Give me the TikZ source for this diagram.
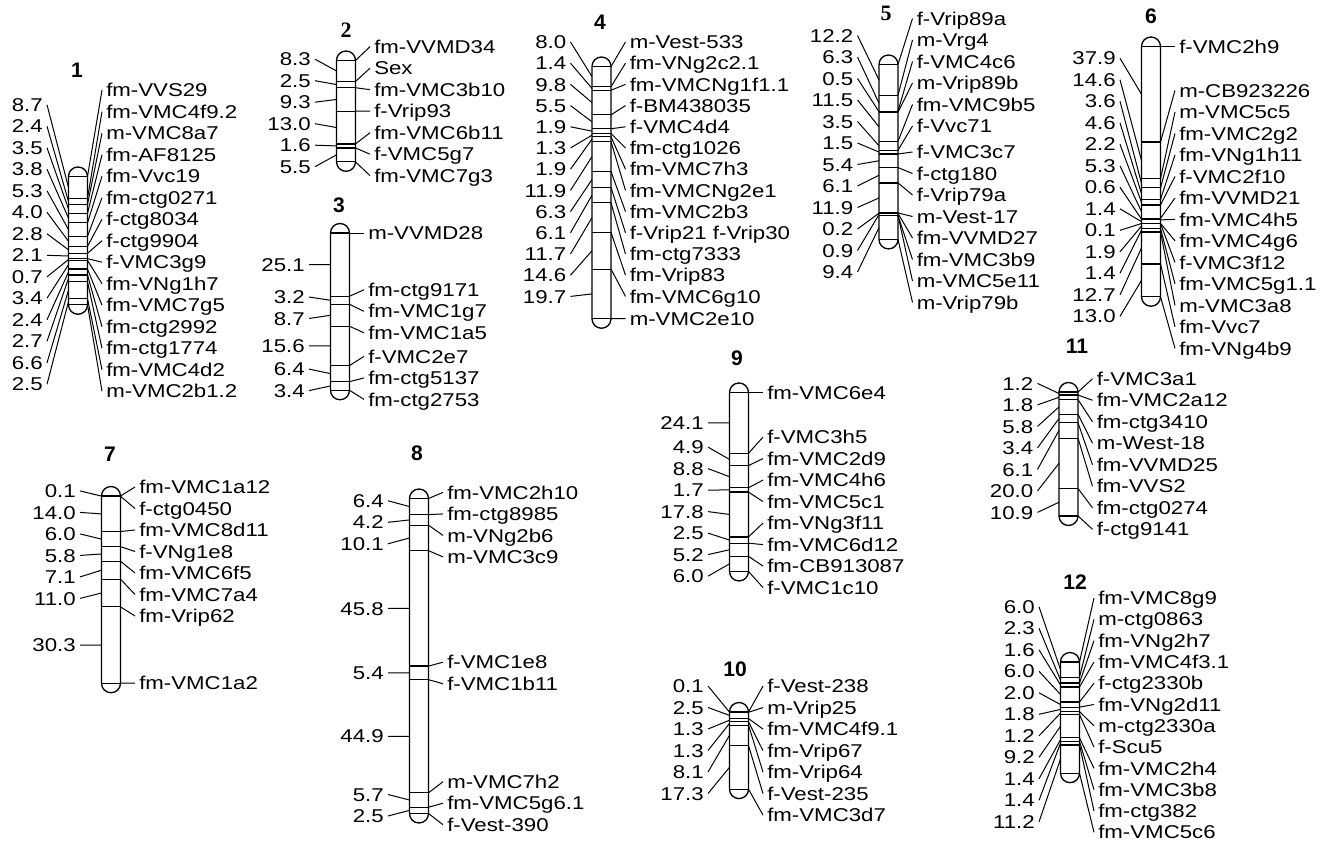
\documentclass[tikz,border=0pt]{standalone}
\usepackage{fontspec}
\setmainfont{Liberation Sans}
\newfontfamily\labfont{Liberation Sans}[FakeStretch=1.2]
\newfontfamily\serfont{Liberation Serif}

% px per cM and half width of a bar
\newcommand{\cmpx}{2.52}
\newcommand{\barhw}{9.5}

% one linkage group: name, x of bar, y of top marker,
% {interval/y of its label}, {marker/y of label/marker name}
\newcommand{\chromo}[5]{%
  \xdef\cmsum{0}
  \coordinate (#1m0) at (#2+\barhw,#3);
  \draw[tick] (#2-\barhw,#3) -- (#1m0);
  \foreach \len/\ly [count=\k] in {#4}{
    \pgfmathsetmacro\midy{#3+(\cmsum+\len/2)*\cmpx}
    \pgfmathsetmacro\newsum{\cmsum+\len}
    \xdef\cmsum{\newsum}
    \coordinate (#1h\k) at (#2-\barhw,\midy);
    \coordinate (#1m\k) at (#2+\barhw,#3+\cmsum*\cmpx);
    \draw[tick] (#2-\barhw,#3+\cmsum*\cmpx) -- (#1m\k);
    \node[dist] (#1L\k) at (#2-31,\ly) {\len};
    \draw[conn] (#1h\k) -- (#1L\k.east);
  }
  \draw[bar] (#2-\barhw,#3-\barhw) rectangle (#2+\barhw,#3+\cmsum*\cmpx+\barhw);
  \foreach \i/\ry/\nm [count=\j] in {#5}{
    \node[mname] (#1R\j) at (#2+24,\ry) {\nm};
    \draw[conn] (#1m\i) -- (#1R\j.west);
  }
}

\begin{document}
\begin{tikzpicture}[x=0.75pt, y=-0.75pt,
  lab/.style={font=\labfont\fontsize{13.9}{14}\selectfont, inner xsep=3pt, inner ysep=0pt, text height=10pt, text depth=0pt},
  dist/.style={lab, anchor=east},
  mname/.style={lab, anchor=west},
  ttl/.style={font=\bfseries\fontsize{15.8}{16}\selectfont, inner sep=0pt},
  ttlser/.style={font=\serfont\bfseries\fontsize{16.5}{17}\selectfont, inner sep=0pt},
  bar/.style={line width=1pt, rounded corners=7.1pt},
  tick/.style={line width=0.9pt},
  conn/.style={line width=0.75pt}]
  \fill[white] (0,0) rectangle (1328,842);
  \useasboundingbox (0,0) rectangle (1328,842);

  % Group titles
  \node[ttl] (t1) at (77,70) {1};
  \node[ttlser] (t2) at (346,30) {2};
  \node[ttl] (t3) at (339,205) {3};
  \node[ttl] (t4) at (600,22) {4};
  \node[ttlser] (t5) at (886,13) {5};
  \node[ttl] (t6) at (1151,16) {6};
  \node[ttl] (t7) at (110,454) {7};
  \node[ttl] (t8) at (417,453) {8};
  \node[ttl] (t9) at (737,358) {9};
  \node[ttl] (t10) at (735,669) {10};
  \node[ttl] (t11) at (1077,346) {11};
  \node[ttl] (t12) at (1075,582) {12};

  % Groups 1-6
  \chromo{c1}{78}{176.5}{8.7/104.8, 2.4/126.3, 3.5/147.8, 3.8/169.3, 5.3/190.8, 4.0/212.3, 2.8/233.8,
    2.1/255.3, 0.7/276.8, 3.4/298.3, 2.4/319.8, 2.7/341.3, 6.6/362.8, 2.5/384.3}
    {0/90.2/fm-VVS29, 1/111.7/fm-VMC4f9.2, 2/133.2/m-VMC8a7, 3/154.7/fm-AF8125, 4/176.2/fm-Vvc19,
    5/197.7/fm-ctg0271, 6/219.2/f-ctg8034, 7/240.7/f-ctg9904, 8/262.2/f-VMC3g9, 9/283.7/fm-VNg1h7,
    10/305.2/fm-VMC7g5, 11/326.7/fm-ctg2992, 12/348.2/fm-ctg1774, 13/369.7/fm-VMC4d2, 14/391.2/m-VMC2b1.2}
  \chromo{c2}{346}{60.5}{8.3/59.2, 2.5/80.7, 9.3/102.2, 13.0/123.7, 1.6/145.2, 5.5/166.7}
    {0/46.7/fm-VVMD34, 1/68.2/Sex, 2/89.7/fm-VMC3b10, 3/111.2/f-Vrip93, 4/132.7/fm-VMC6b11,
    5/154.2/f-VMC5g7, 6/175.7/fm-VMC7g3}
  \chromo{c3}{340}{233}{25.1/264.7, 3.2/297, 8.7/318.5, 15.6/345.9, 6.4/369.1, 3.4/390.6}
    {0/233/m-VVMD28, 1/289.8/fm-ctg9171, 2/311.3/fm-VMC1g7, 3/332.8/fm-VMC1a5, 4/356.4/f-VMC2e7,
    5/377.9/fm-ctg5137, 6/399.4/fm-ctg2753}
  \chromo{c4}{601.5}{66.5}{8.0/42, 1.4/63.2, 9.8/84.4, 5.5/105.6, 1.9/126.8, 1.3/148, 1.9/169.2,
    11.9/190.4, 6.3/211.6, 6.1/232.8, 11.7/254, 14.6/275.2, 19.7/296.4}
    {0/42/m-Vest-533, 1/63.2/fm-VNg2c2.1, 2/84.4/fm-VMCNg1f1.1, 3/105.6/f-BM438035, 4/126.8/f-VMC4d4,
    5/148/fm-ctg1026, 6/169.2/fm-VMC7h3, 7/190.4/fm-VMCNg2e1, 8/211.6/fm-VMC2b3,
    9/232.8/f-Vrip21 f-Vrip30, 10/254/fm-ctg7333, 11/275.2/fm-Vrip83, 12/296.4/fm-VMC6g10,
    13/318.7/m-VMC2e10}
  \chromo{c5}{888.5}{64.5}{12.2/35.5, 6.3/57, 0.5/78.5, 11.5/100, 3.5/121.5, 1.5/143, 5.4/164.5,
    6.1/186, 11.9/207.5, 0.2/229, 0.9/250.5, 9.4/272}
    {0/18.5/f-Vrip89a, 1/40/m-Vrg4, 2/61.5/f-VMC4c6, 3/83/m-Vrip89b, 4/104.5/fm-VMC9b5,
    5/126/f-Vvc71, 6/152/f-VMC3c7, 7/173.5/f-ctg180, 8/195/f-Vrip79a, 9/216.5/m-Vest-17,
    10/238/fm-VVMD27, 11/259.5/fm-VMC3b9, 11/281/m-VMC5e11, 12/302.5/m-Vrip79b}
  \chromo{c6}{1151}{46.5}{37.9/58.3, 14.6/79.8, 3.6/101.3, 4.6/122.8, 2.2/144.3, 5.3/165.8, 0.6/187.3,
    1.4/208.8, 0.1/230.3, 1.9/251.8, 1.4/273.3, 12.7/294.8, 13.0/316.3}
    {0/46.5/f-VMC2h9, 1/90.4/m-CB923226, 2/111.9/m-VMC5c5, 3/133.4/fm-VMC2g2, 4/154.9/fm-VNg1h11,
    5/176.4/f-VMC2f10, 6/197.9/fm-VVMD21, 7/219.4/fm-VMC4h5, 8/240.9/fm-VMC4g6, 9/262.4/f-VMC3f12,
    10/283.9/fm-VMC5g1.1, 11/305.4/m-VMC3a8, 12/326.9/fm-Vvc7, 13/348.4/fm-VNg4b9}

  % Groups 7-12
  \chromo{c7}{111}{496}{0.1/490.9, 14.0/512.4, 6.0/533.9, 5.8/555.4, 7.1/576.9, 11.0/598.4, 30.3/645.1}
    {0/487.0/fm-VMC1a12, 1/508.5/f-ctg0450, 2/530.0/fm-VMC8d11, 3/551.5/f-VNg1e8, 4/573.0/fm-VMC6f5,
    5/594.5/fm-VMC7a4, 6/616.0/fm-Vrip62, 7/683.2/fm-VMC1a2}
  \chromo{c8}{419}{498.5}{6.4/500.8, 4.2/522.3, 10.1/543.8, 45.8/608.4, 5.4/672.9, 44.9/736.3,
    5.7/794.5, 2.5/816.0}
    {0/492.4/fm-VMC2h10, 1/513.9/fm-ctg8985, 2/535.4/m-VNg2b6, 3/556.9/m-VMC3c9, 4/662.2/f-VMC1e8,
    5/683.7/f-VMC1b11, 6/781.7/m-VMC7h2, 7/803.2/fm-VMC5g6.1, 8/824.7/f-Vest-390}
  \chromo{c9}{739}{392.5}{24.1/422.9, 4.9/447.1, 8.8/468.6, 1.7/490.1, 17.8/511.6, 2.5/533.1,
    5.2/554.6, 6.0/576.1}
    {0/392.5/fm-VMC6e4, 1/437.1/f-VMC3h5, 2/458.6/fm-VMC2d9, 3/480.1/fm-VMC4h6, 4/501.6/fm-VMC5c1,
    5/523.1/fm-VNg3f11, 6/544.6/fm-VMC6d12, 7/566.1/fm-CB913087, 8/587.6/f-VMC1c10}
  \chromo{c10}{739}{712}{0.1/686.0, 2.5/707.5, 1.3/729.0, 1.3/750.5, 8.1/772.0, 17.3/793.5}
    {0/686.1/f-Vest-238, 1/707.6/m-Vrip25, 2/729.1/fm-VMC4f9.1, 3/750.6/fm-Vrip67, 4/772.1/fm-Vrip64,
    5/793.6/f-Vest-235, 6/815.1/fm-VMC3d7}
  \chromo{c11}{1068.5}{392}{1.2/383.4, 1.8/404.9, 5.8/426.4, 3.4/447.9, 6.1/469.4, 20.0/490.9, 10.9/512.4}
    {0/378.8/f-VMC3a1, 1/400.3/fm-VMC2a12, 2/421.8/fm-ctg3410, 3/443.3/m-West-18, 4/464.8/fm-VVMD25,
    5/486.3/fm-VVS2, 6/507.8/fm-ctg0274, 7/529.3/f-ctg9141}
  \chromo{c12}{1070}{662}{6.0/606.8, 2.3/628.3, 1.6/649.8, 6.0/671.3, 2.0/692.8, 1.8/714.3, 1.2/735.8,
    9.2/757.3, 1.4/778.8, 1.4/800.3, 11.2/821.8}
    {0/598/fm-VMC8g9, 1/619.3/m-ctg0863, 2/640.6/fm-VNg2h7, 3/661.9/fm-VMC4f3.1, 4/683.2/f-ctg2330b,
    5/704.5/fm-VNg2d11, 6/725.8/m-ctg2330a, 7/747.1/f-Scu5, 8/768.4/fm-VMC2h4, 9/789.7/fm-VMC3b8,
    10/811/fm-ctg382, 11/832.3/fm-VMC5c6}
\end{tikzpicture}
\end{document}
